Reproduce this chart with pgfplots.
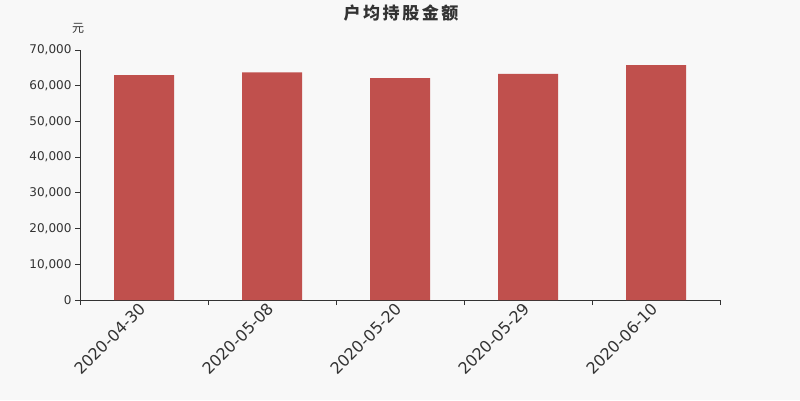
\documentclass[border=0pt]{standalone}
\usepackage{fontspec}
\setmainfont{DejaVu Sans}
\newfontfamily\cjk{Noto Sans CJK SC}
\newfontfamily\cjktitle[LetterSpace=15]{Noto Sans CJK SC}
\usepackage{pgfplots}
\pgfplotsset{compat=1.18}
\definecolor{bg}{HTML}{F8F8F8}
\definecolor{barred}{HTML}{C0504D}
\definecolor{axisgray}{HTML}{333333}
\begin{document}
\begin{tikzpicture}[x=1pt,y=1pt]
\fill[bg] (0,0) rectangle (800,400);
\begin{axis}[
  at={(80pt,100pt)}, anchor=south west,
  scale only axis, width=640pt, height=250pt,
  xmin=-0.5, xmax=4.5, ymin=0, ymax=70000,
  axis x line*=bottom, axis y line*=left,
  axis line style={axisgray, line width=0.8pt},
  ybar, bar width=60pt,
  xtick={0,...,4},
  xticklabels={2020-04-30,2020-05-08,2020-05-20,2020-05-29,2020-06-10},
  major x tick style={draw=none},
  minor xtick={-0.5,0.5,...,4.5},
  minor x tick style={axisgray, line width=0.8pt},
  y tick style={axisgray, line width=0.8pt},
  tick align=outside, major tick length=5pt, minor tick length=5pt,
  ytick={0,10000,...,70000},
  scaled y ticks=false,
  /pgf/number format/1000 sep={,},
  /pgf/number format/assume math mode=true,
  xticklabel style={rotate=45, anchor=east, text=axisgray, xshift=2pt,
    font=\fontsize{16}{16}\selectfont},
  yticklabel style={text=axisgray, font=\fontsize{12}{12}\selectfont},
  clip=false,
]
\addplot[fill=barred, draw=none] coordinates {
  (0,63000) (1,63750) (2,62150) (3,63300) (4,65800)};
\end{axis}
\node[font=\cjktitle\bfseries\fontsize{17}{17}\selectfont, text=axisgray] at (401,387) {户均持股金额};
\node[font=\cjk\fontsize{12}{12}\selectfont, text=axisgray] at (78,372) {元};
\end{tikzpicture}
\end{document}
